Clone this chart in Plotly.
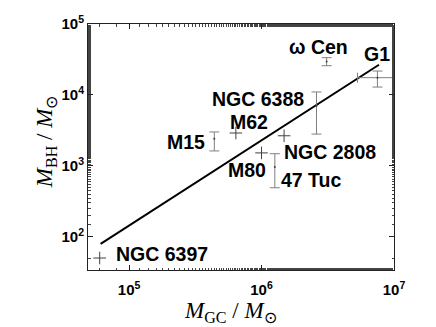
import math
import plotly.graph_objects as go

# globular clusters: cluster mass vs. central black hole mass (solar masses)
names = ["NGC 6397", "M15", "M62", "NGC 2808", "M80", "47 Tuc", "NGC 6388", "ω Cen", "G1"]
m_gc = [6.0e4, 4.4e5, 6.4e5, 1.48e6, 1.0e6, 1.26e6, 2.6e6, 3.1e6, 7.5e6]
m_gc_lo = [None, None, None, None, None, None, None, None, 5.3e6]
m_gc_hi = [None, None, None, None, None, None, None, None, 9.8e6]
m_bh = [50, 2400, 2900, 2650, 1520, 960, 7000, 29500, 17500]
m_bh_lo = [None, 1620, None, None, None, 490, 2800, 25800, 12900]
m_bh_hi = [None, 3000, None, None, None, 1480, 11000, 33500, 21700]

# fitted relation, end points
fit_gc = [6.1e4, 7.7e6]
fit_bh = [79, 26600]

x_ticks = [1e5, 1e6, 1e7]
x_ticktext = ["10<sup>5</sup>", "10<sup>6</sup>", "10<sup>7</sup>"]
y_ticks = [1e2, 1e3, 1e4, 1e5]
y_ticktext = ["10<sup>2</sup>", "10<sup>3</sup>", "10<sup>4</sup>", "10<sup>5</sup>"]

# label offsets in px (dx, dy) from each point
label_shift = {
    "NGC 6397": (62, 4), "M15": (-28, -3), "M62": (13, 11), "NGC 2808": (46, -16),
    "M80": (-15, -17), "47 Tuc": (36, -13), "NGC 6388": (-59, 7), "ω Cen": (-8, 15),
    "G1": (0, 24),
}

GRAY = "#7f7f7f"
fig = go.Figure()

fig.add_trace(go.Scatter(x=fit_gc, y=fit_bh, mode="lines",
                         line=dict(color="black", width=2), showlegend=False))

plain = [i for i in range(len(names)) if m_bh_lo[i] is None]
fig.add_trace(go.Scatter(
    x=[m_gc[i] for i in plain], y=[m_bh[i] for i in plain], mode="markers",
    marker=dict(symbol="cross-thin", size=9, line=dict(color="#404040", width=1)),
    showlegend=False,
))

errv = [i for i in range(len(names)) if m_bh_lo[i] is not None and m_gc_lo[i] is None]
fig.add_trace(go.Scatter(
    x=[m_gc[i] for i in errv], y=[m_bh[i] for i in errv], mode="markers",
    marker=dict(size=2, color="#404040"),
    error_y=dict(type="data", symmetric=False,
                 array=[m_bh_hi[i] - m_bh[i] for i in errv],
                 arrayminus=[m_bh[i] - m_bh_lo[i] for i in errv],
                 color=GRAY, thickness=1, width=5),
    showlegend=False,
))

errxy = [i for i in range(len(names)) if m_gc_lo[i] is not None]
fig.add_trace(go.Scatter(
    x=[m_gc[i] for i in errxy], y=[m_bh[i] for i in errxy], mode="markers",
    marker=dict(size=2, color="#404040"),
    error_y=dict(type="data", symmetric=False,
                 array=[m_bh_hi[i] - m_bh[i] for i in errxy],
                 arrayminus=[m_bh[i] - m_bh_lo[i] for i in errxy],
                 color=GRAY, thickness=1, width=5),
    error_x=dict(type="data", symmetric=False,
                 array=[m_gc_hi[i] - m_gc[i] for i in errxy],
                 arrayminus=[m_gc[i] - m_gc_lo[i] for i in errxy],
                 color=GRAY, thickness=1, width=5),
    showlegend=False,
))

for i, name in enumerate(names):
    dx, dy = label_shift[name]
    fig.add_annotation(
        x=math.log10(m_gc[i]), y=math.log10(m_bh[i]), xref="x", yref="y",
        text=name, showarrow=False, xshift=dx, yshift=dy,
        font=dict(family="Liberation Sans", size=19.5, color="black", weight="bold"),
    )

# axis titles placed by hand
title_font = dict(family="Liberation Serif", size=23, color="black")
fig.add_annotation(text="<i>M</i><sub>GC</sub> / <i>M</i><sub>⊙</sub>",
                   xref="paper", yref="paper", x=0.465, y=-0.17, yanchor="middle",
                   showarrow=False, font=title_font)
fig.add_annotation(text="<i>M</i><sub>BH</sub> / <i>M</i><sub>⊙</sub>",
                   xref="paper", yref="paper", x=-0.137, y=0.52, xanchor="center",
                   yanchor="middle", textangle=-90, showarrow=False, font=title_font)

axis_common = dict(
    type="log", showline=True, linecolor="#222", linewidth=1, mirror="ticks",
    ticks="inside", ticklen=5, tickcolor="#222", showgrid=False, zeroline=False,
    automargin=False,
    tickfont=dict(family="Liberation Sans", size=15, color="black", weight="bold"),
    minor=dict(ticks="inside", ticklen=2.5, tickcolor="#444", showgrid=False),
)

fig.update_xaxes(**axis_common, range=[4.69, 7.0], tickvals=x_ticks,
                 ticktext=x_ticktext, ticklabelstandoff=6)
fig.update_yaxes(**axis_common, range=[1.53, 5.0], tickvals=y_ticks,
                 ticktext=y_ticktext, ticklabelstandoff=0)

# the page adds an 8 px body margin, so the figure is a bit smaller
fig.update_layout(
    width=428, height=319, margin=dict(l=80, r=42, t=16, b=57),
    plot_bgcolor="white", paper_bgcolor="white",
)

fig.write_html("out.html")
